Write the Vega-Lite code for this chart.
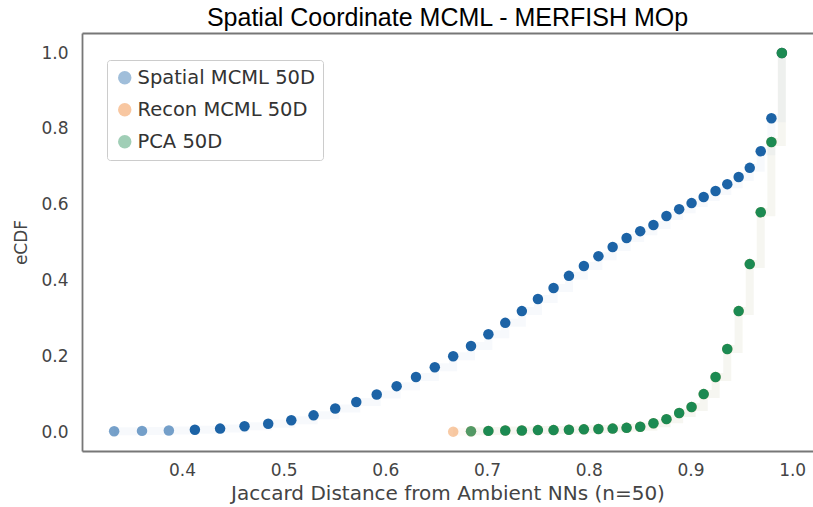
{
  "$schema": "https://vega.github.io/schema/vega-lite/v6.json",
  "autosize": {"type": "none"},
  "padding": {"left": 82, "top": 33, "right": 0, "bottom": 56},
  "width": 731,
  "height": 418,
  "background": "white",
  "config": {
    "view": {"stroke": null},
    "font": "DejaVu Sans"
  },
  "title": {
    "text": "Spatial Coordinate MCML - MERFISH MOp",
    "font": "Liberation Sans",
    "fontSize": 25,
    "fontWeight": "normal",
    "color": "#000000",
    "anchor": "middle",
    "offset": 2
  },
  "data": {
    "values": [
      {"series": "Spatial MCML 50D", "jaccard": 0.3333, "ecdf": 0.002},
      {"series": "Spatial MCML 50D", "jaccard": 0.3607, "ecdf": 0.003},
      {"series": "Spatial MCML 50D", "jaccard": 0.3871, "ecdf": 0.004},
      {"series": "Spatial MCML 50D", "jaccard": 0.4127, "ecdf": 0.006},
      {"series": "Spatial MCML 50D", "jaccard": 0.4375, "ecdf": 0.009},
      {"series": "Spatial MCML 50D", "jaccard": 0.4615, "ecdf": 0.015},
      {"series": "Spatial MCML 50D", "jaccard": 0.4848, "ecdf": 0.022},
      {"series": "Spatial MCML 50D", "jaccard": 0.5075, "ecdf": 0.031},
      {"series": "Spatial MCML 50D", "jaccard": 0.5294, "ecdf": 0.044},
      {"series": "Spatial MCML 50D", "jaccard": 0.5507, "ecdf": 0.062},
      {"series": "Spatial MCML 50D", "jaccard": 0.5714, "ecdf": 0.079},
      {"series": "Spatial MCML 50D", "jaccard": 0.5915, "ecdf": 0.099},
      {"series": "Spatial MCML 50D", "jaccard": 0.6111, "ecdf": 0.121},
      {"series": "Spatial MCML 50D", "jaccard": 0.6301, "ecdf": 0.145},
      {"series": "Spatial MCML 50D", "jaccard": 0.6486, "ecdf": 0.171},
      {"series": "Spatial MCML 50D", "jaccard": 0.6667, "ecdf": 0.200},
      {"series": "Spatial MCML 50D", "jaccard": 0.6842, "ecdf": 0.227},
      {"series": "Spatial MCML 50D", "jaccard": 0.7013, "ecdf": 0.258},
      {"series": "Spatial MCML 50D", "jaccard": 0.7179, "ecdf": 0.288},
      {"series": "Spatial MCML 50D", "jaccard": 0.7342, "ecdf": 0.319},
      {"series": "Spatial MCML 50D", "jaccard": 0.7500, "ecdf": 0.351},
      {"series": "Spatial MCML 50D", "jaccard": 0.7654, "ecdf": 0.380},
      {"series": "Spatial MCML 50D", "jaccard": 0.7805, "ecdf": 0.412},
      {"series": "Spatial MCML 50D", "jaccard": 0.7952, "ecdf": 0.438},
      {"series": "Spatial MCML 50D", "jaccard": 0.8095, "ecdf": 0.464},
      {"series": "Spatial MCML 50D", "jaccard": 0.8235, "ecdf": 0.488},
      {"series": "Spatial MCML 50D", "jaccard": 0.8372, "ecdf": 0.512},
      {"series": "Spatial MCML 50D", "jaccard": 0.8506, "ecdf": 0.530},
      {"series": "Spatial MCML 50D", "jaccard": 0.8636, "ecdf": 0.546},
      {"series": "Spatial MCML 50D", "jaccard": 0.8764, "ecdf": 0.570},
      {"series": "Spatial MCML 50D", "jaccard": 0.8889, "ecdf": 0.588},
      {"series": "Spatial MCML 50D", "jaccard": 0.9011, "ecdf": 0.604},
      {"series": "Spatial MCML 50D", "jaccard": 0.9130, "ecdf": 0.620},
      {"series": "Spatial MCML 50D", "jaccard": 0.9247, "ecdf": 0.636},
      {"series": "Spatial MCML 50D", "jaccard": 0.9362, "ecdf": 0.654},
      {"series": "Spatial MCML 50D", "jaccard": 0.9474, "ecdf": 0.673},
      {"series": "Spatial MCML 50D", "jaccard": 0.9583, "ecdf": 0.697},
      {"series": "Spatial MCML 50D", "jaccard": 0.9691, "ecdf": 0.741},
      {"series": "Spatial MCML 50D", "jaccard": 0.9796, "ecdf": 0.828},
      {"series": "Spatial MCML 50D", "jaccard": 0.9899, "ecdf": 1.0},
      {"series": "Recon MCML 50D", "jaccard": 0.6667, "ecdf": 0.001},
      {"series": "Recon MCML 50D", "jaccard": 0.6842, "ecdf": 0.002},
      {"series": "Recon MCML 50D", "jaccard": 0.7013, "ecdf": 0.003},
      {"series": "Recon MCML 50D", "jaccard": 0.7179, "ecdf": 0.004},
      {"series": "Recon MCML 50D", "jaccard": 0.7342, "ecdf": 0.004},
      {"series": "Recon MCML 50D", "jaccard": 0.7500, "ecdf": 0.005},
      {"series": "Recon MCML 50D", "jaccard": 0.7654, "ecdf": 0.005},
      {"series": "Recon MCML 50D", "jaccard": 0.7805, "ecdf": 0.006},
      {"series": "Recon MCML 50D", "jaccard": 0.7952, "ecdf": 0.007},
      {"series": "Recon MCML 50D", "jaccard": 0.8095, "ecdf": 0.008},
      {"series": "Recon MCML 50D", "jaccard": 0.8235, "ecdf": 0.009},
      {"series": "Recon MCML 50D", "jaccard": 0.8372, "ecdf": 0.011},
      {"series": "Recon MCML 50D", "jaccard": 0.8506, "ecdf": 0.014},
      {"series": "Recon MCML 50D", "jaccard": 0.8636, "ecdf": 0.023},
      {"series": "Recon MCML 50D", "jaccard": 0.8764, "ecdf": 0.034},
      {"series": "Recon MCML 50D", "jaccard": 0.8889, "ecdf": 0.050},
      {"series": "Recon MCML 50D", "jaccard": 0.9011, "ecdf": 0.066},
      {"series": "Recon MCML 50D", "jaccard": 0.9130, "ecdf": 0.100},
      {"series": "Recon MCML 50D", "jaccard": 0.9247, "ecdf": 0.145},
      {"series": "Recon MCML 50D", "jaccard": 0.9362, "ecdf": 0.219},
      {"series": "Recon MCML 50D", "jaccard": 0.9474, "ecdf": 0.319},
      {"series": "Recon MCML 50D", "jaccard": 0.9583, "ecdf": 0.443},
      {"series": "Recon MCML 50D", "jaccard": 0.9691, "ecdf": 0.580},
      {"series": "Recon MCML 50D", "jaccard": 0.9796, "ecdf": 0.765},
      {"series": "Recon MCML 50D", "jaccard": 0.9899, "ecdf": 1.0},
      {"series": "PCA 50D", "jaccard": 0.6842, "ecdf": 0.002},
      {"series": "PCA 50D", "jaccard": 0.7013, "ecdf": 0.003},
      {"series": "PCA 50D", "jaccard": 0.7179, "ecdf": 0.004},
      {"series": "PCA 50D", "jaccard": 0.7342, "ecdf": 0.004},
      {"series": "PCA 50D", "jaccard": 0.7500, "ecdf": 0.005},
      {"series": "PCA 50D", "jaccard": 0.7654, "ecdf": 0.005},
      {"series": "PCA 50D", "jaccard": 0.7805, "ecdf": 0.006},
      {"series": "PCA 50D", "jaccard": 0.7952, "ecdf": 0.007},
      {"series": "PCA 50D", "jaccard": 0.8095, "ecdf": 0.008},
      {"series": "PCA 50D", "jaccard": 0.8235, "ecdf": 0.009},
      {"series": "PCA 50D", "jaccard": 0.8372, "ecdf": 0.011},
      {"series": "PCA 50D", "jaccard": 0.8506, "ecdf": 0.014},
      {"series": "PCA 50D", "jaccard": 0.8636, "ecdf": 0.023},
      {"series": "PCA 50D", "jaccard": 0.8764, "ecdf": 0.034},
      {"series": "PCA 50D", "jaccard": 0.8889, "ecdf": 0.050},
      {"series": "PCA 50D", "jaccard": 0.9011, "ecdf": 0.066},
      {"series": "PCA 50D", "jaccard": 0.9130, "ecdf": 0.100},
      {"series": "PCA 50D", "jaccard": 0.9247, "ecdf": 0.145},
      {"series": "PCA 50D", "jaccard": 0.9362, "ecdf": 0.219},
      {"series": "PCA 50D", "jaccard": 0.9474, "ecdf": 0.319},
      {"series": "PCA 50D", "jaccard": 0.9583, "ecdf": 0.443},
      {"series": "PCA 50D", "jaccard": 0.9691, "ecdf": 0.580},
      {"series": "PCA 50D", "jaccard": 0.9796, "ecdf": 0.765},
      {"series": "PCA 50D", "jaccard": 0.9899, "ecdf": 1.0}
    ]
  },
  "encoding": {
    "color": {
      "field": "series", "type": "nominal",
      "scale": {
        "domain": ["Spatial MCML 50D", "Recon MCML 50D", "PCA 50D"],
        "range": ["#1c63a6", "#ee7a1e", "#1c8a52"]
      },
      "legend": {
        "title": null,
        "orient": "none",
        "legendX": 25,
        "legendY": 27,
        "symbolType": "circle",
        "symbolSize": 180,
        "symbolOpacity": 0.42,
        "symbolStrokeWidth": 0,
        "labelFontSize": 19.5,
        "labelLimit": 400,
        "labelColor": "#333333",
        "labelOffset": 3,
        "rowPadding": 11,
        "padding": 8,
        "strokeColor": "#cccccc",
        "fillColor": "white",
        "cornerRadius": 3
      }
    }
  },
  "layer": [
    {
      "mark": {"type": "line", "interpolate": "step-after", "strokeWidth": 8, "opacity": 0.035},
      "encoding": {
        "x": {
          "field": "jaccard", "type": "quantitative",
          "scale": {"domain": [0.3017, 1.0205], "nice": false, "zero": false},
          "axis": {"orient": "top", "labels": false, "ticks": false, "grid": false, "title": null, "domainColor": "#777777", "domainWidth": 1.8}
        },
        "y": {
          "field": "ecdf", "type": "quantitative",
          "scale": {"domain": [-0.0501, 1.0528], "nice": false, "zero": false}
        },
        "detail": {"field": "series"}
      }
    },
    {
      "mark": {"type": "point", "filled": true, "size": 110, "strokeWidth": 0},
      "encoding": {
        "x": {
          "field": "jaccard", "type": "quantitative",
          "axis": {
            "title": "Jaccard Distance from Ambient NNs (n=50)",
            "values": [0.4, 0.5, 0.6, 0.7, 0.8, 0.9, 1.0],
            "format": ".1f",
            "grid": false, "ticks": false,
            "labelFontSize": 17, "labelColor": "#444444", "labelPadding": 11,
            "titleFontSize": 20, "titleColor": "#444444", "titleFontWeight": "normal", "titlePadding": 5,
            "domainColor": "#777777", "domainWidth": 1.8
          }
        },
        "y": {
          "field": "ecdf", "type": "quantitative",
          "axis": {
            "title": "eCDF",
            "values": [0, 0.2, 0.4, 0.6, 0.8, 1.0],
            "format": ".1f",
            "grid": false, "ticks": false,
            "labelFontSize": 17, "labelColor": "#444444", "labelPadding": 14,
            "titleFontSize": 17, "titleColor": "#444444", "titleFontWeight": "normal", "titlePadding": 10,
            "domainColor": "#777777", "domainWidth": 1.8
          }
        },
        "opacity": {
          "condition": [
            {"test": "datum.series === 'Recon MCML 50D'", "value": 0.4},
            {"test": "datum.series === 'Spatial MCML 50D' && datum.jaccard < 0.4", "value": 0.6},
            {"test": "datum.series === 'PCA 50D' && datum.jaccard < 0.69", "value": 0.75}
          ],
          "value": 1
        }
      }
    }
  ],
  "resolve": {"axis": {"x": "independent"}}
}
